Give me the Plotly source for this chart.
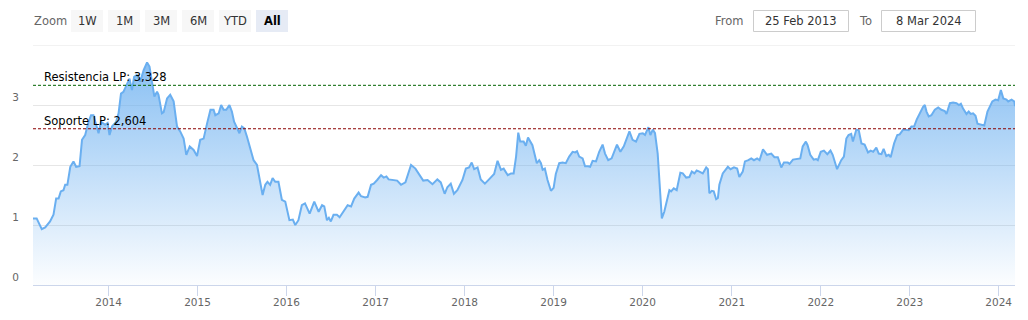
import plotly.graph_objects as go

# ---- data ----
dates = [
    "2013-02-25", "2013-03-12", "2013-04-02", "2013-04-16", "2013-05-06", "2013-05-20", "2013-05-31",
    "2013-06-10", "2013-06-19", "2013-06-30", "2013-07-07", "2013-07-16", "2013-07-28", "2013-08-10",
    "2013-08-21", "2013-09-04", "2013-09-14", "2013-09-27", "2013-10-11", "2013-10-21", "2013-10-31",
    "2013-11-14", "2013-11-21", "2013-12-01", "2013-12-18", "2013-12-28",
    "2014-01-05", "2014-01-15", "2014-02-01", "2014-02-11", "2014-02-21", "2014-03-03", "2014-03-17",
    "2014-03-28", "2014-04-07", "2014-04-16", "2014-04-27", "2014-05-11", "2014-05-25", "2014-06-08",
    "2014-06-18", "2014-06-28", "2014-07-08", "2014-07-19", "2014-07-25", "2014-08-08", "2014-08-15",
    "2014-08-29", "2014-09-11", "2014-09-25", "2014-10-09", "2014-10-22", "2014-11-05", "2014-11-16",
    "2014-11-30", "2014-12-16", "2014-12-30",
    "2015-01-12", "2015-01-26", "2015-02-09", "2015-02-23", "2015-03-08", "2015-03-15", "2015-03-29",
    "2015-04-08", "2015-04-18", "2015-04-29", "2015-05-12", "2015-05-22", "2015-05-31", "2015-06-14",
    "2015-06-22", "2015-07-02", "2015-07-12", "2015-07-23", "2015-08-05", "2015-08-19", "2015-09-02",
    "2015-09-15", "2015-09-25", "2015-10-06", "2015-10-15", "2015-10-26", "2015-11-05", "2015-11-16",
    "2015-11-29", "2015-12-13", "2015-12-27",
    "2016-01-13", "2016-01-27", "2016-02-06", "2016-02-19", "2016-03-04", "2016-03-17", "2016-04-05",
    "2016-04-24", "2016-05-12", "2016-05-26", "2016-06-04", "2016-06-15", "2016-06-23", "2016-07-01",
    "2016-07-12", "2016-07-26", "2016-08-06", "2016-08-22", "2016-09-08", "2016-09-22", "2016-10-05",
    "2016-10-23", "2016-11-02", "2016-11-19", "2016-11-29", "2016-12-13", "2016-12-24",
    "2017-01-07", "2017-01-23", "2017-02-03", "2017-02-14", "2017-02-23", "2017-03-30", "2017-04-15",
    "2017-05-03", "2017-05-26", "2017-06-13", "2017-07-15", "2017-08-02", "2017-08-22", "2017-09-11",
    "2017-09-25", "2017-10-11", "2017-10-22", "2017-11-05", "2017-11-18", "2017-12-02", "2017-12-23",
    "2018-01-06", "2018-01-19", "2018-01-30", "2018-02-09", "2018-02-23", "2018-03-08", "2018-03-25",
    "2018-04-11", "2018-05-02", "2018-05-16", "2018-05-30", "2018-06-10", "2018-06-27", "2018-07-10",
    "2018-07-21", "2018-07-31", "2018-08-09", "2018-08-17", "2018-08-31", "2018-09-09", "2018-09-18",
    "2018-10-06", "2018-10-24", "2018-11-03", "2018-11-10", "2018-11-17", "2018-11-26", "2018-12-07",
    "2018-12-21",
    "2019-01-01", "2019-01-10", "2019-01-24", "2019-02-07", "2019-02-20", "2019-03-06", "2019-03-20",
    "2019-03-31", "2019-04-07", "2019-04-16", "2019-04-30", "2019-05-10", "2019-05-23", "2019-05-31",
    "2019-06-10", "2019-06-24", "2019-07-07", "2019-07-21", "2019-07-31", "2019-08-13", "2019-08-27",
    "2019-09-18", "2019-10-02", "2019-10-16", "2019-11-08", "2019-11-21", "2019-12-05", "2019-12-19",
    "2020-01-02", "2020-01-11", "2020-01-25", "2020-02-02", "2020-02-12", "2020-02-21", "2020-03-03",
    "2020-03-10", "2020-03-20", "2020-03-30", "2020-04-13", "2020-04-20", "2020-04-27", "2020-05-08",
    "2020-05-20", "2020-06-04", "2020-06-14", "2020-06-28", "2020-07-11", "2020-07-21", "2020-08-01",
    "2020-08-10", "2020-08-21", "2020-09-04", "2020-09-18", "2020-09-25", "2020-10-01", "2020-10-11",
    "2020-10-19", "2020-10-29", "2020-11-05", "2020-11-11", "2020-11-25", "2020-12-16", "2020-12-27",
    "2021-01-10", "2021-01-23", "2021-02-01", "2021-02-15", "2021-02-24", "2021-03-10", "2021-03-22",
    "2021-04-02", "2021-04-15", "2021-04-25", "2021-05-09", "2021-05-26", "2021-06-12", "2021-06-25",
    "2021-07-09", "2021-07-23", "2021-08-03", "2021-08-19", "2021-08-26", "2021-09-09", "2021-09-29",
    "2021-10-09", "2021-10-19", "2021-11-01", "2021-11-08", "2021-11-19", "2021-12-03", "2021-12-13",
    "2021-12-20",
    "2022-01-01", "2022-01-14", "2022-01-28", "2022-02-10", "2022-02-19", "2022-03-09", "2022-03-26",
    "2022-04-06", "2022-04-16", "2022-04-25", "2022-05-06", "2022-05-13", "2022-05-27", "2022-06-06",
    "2022-06-17", "2022-06-30", "2022-07-14", "2022-07-25", "2022-08-04", "2022-08-17", "2022-08-27",
    "2022-09-07", "2022-09-16", "2022-09-27", "2022-10-07", "2022-10-15", "2022-10-29", "2022-11-11",
    "2022-11-21", "2022-12-05", "2022-12-18", "2022-12-28",
    "2023-01-08", "2023-01-19", "2023-01-30", "2023-02-11", "2023-02-25", "2023-03-04", "2023-03-11",
    "2023-03-20", "2023-03-31", "2023-04-14", "2023-04-28", "2023-05-11", "2023-05-25", "2023-06-01",
    "2023-06-15", "2023-06-28", "2023-07-12", "2023-07-22", "2023-07-30", "2023-08-08", "2023-08-22",
    "2023-08-31", "2023-09-08", "2023-09-18", "2023-09-28", "2023-10-06", "2023-10-23", "2023-11-03",
    "2023-11-16", "2023-11-26", "2023-12-06", "2023-12-19", "2023-12-30",
    "2024-01-10", "2024-01-20", "2024-02-02", "2024-02-09", "2024-02-23", "2024-03-05", "2024-03-08",
]

values = [
    1.11, 1.11, 0.93, 0.96, 1.06, 1.17, 1.44,
    1.44, 1.56, 1.58, 1.67, 1.67, 1.97, 2.06,
    1.97, 1.98, 2.42, 2.50, 2.72, 2.83, 2.83,
    2.64, 2.53, 2.72, 2.67, 2.70,
    2.50, 2.64, 2.72, 2.86, 3.19, 3.22, 3.33,
    3.44, 3.25, 3.47, 3.50, 3.39, 3.58, 3.71,
    3.64, 3.39, 3.14, 3.22, 3.17, 2.86, 2.88,
    3.11, 3.17, 3.06, 2.64, 2.56, 2.44, 2.17,
    2.31, 2.25, 2.15,
    2.42, 2.44, 2.69, 2.92, 2.92, 2.83, 2.86,
    3.00, 2.92, 2.92, 3.00, 2.89, 2.72, 2.61,
    2.53, 2.64, 2.61, 2.47, 2.28, 2.08, 2.00,
    1.72, 1.50, 1.67, 1.72, 1.67, 1.78, 1.72,
    1.72, 1.42, 1.39,
    1.08, 1.09, 1.00, 1.08, 1.33, 1.36, 1.19,
    1.39, 1.22, 1.33, 1.31, 1.08, 1.12, 1.06,
    1.17, 1.17, 1.13, 1.22, 1.33, 1.31, 1.44,
    1.54, 1.48, 1.46, 1.47, 1.67, 1.69,
    1.75, 1.83, 1.79, 1.81, 1.76, 1.74, 1.67,
    1.71, 2.00, 1.94, 1.74, 1.75, 1.68, 1.76,
    1.71, 1.52, 1.63, 1.69, 1.52, 1.58, 1.75,
    1.94, 1.96, 2.04, 1.93, 1.96, 1.76, 1.69,
    1.76, 1.85, 2.07, 1.92, 1.94, 1.83, 1.86,
    1.86, 2.14, 2.54, 2.39, 2.39, 2.32, 2.46,
    2.33, 2.03, 2.08, 2.03, 1.92, 1.94, 1.75,
    1.57,
    1.62, 1.85, 2.03, 2.04, 2.03, 2.14, 2.22,
    2.21, 2.23, 2.14, 2.11, 1.98, 1.98, 1.97,
    2.07, 2.06, 2.22, 2.34, 2.19, 2.08, 2.11,
    2.34, 2.22, 2.31, 2.56, 2.42, 2.39, 2.52,
    2.53, 2.50, 2.63, 2.50, 2.59, 2.53, 2.19,
    1.69, 1.11, 1.22, 1.50, 1.58, 1.56, 1.61,
    1.58, 1.87, 1.86, 1.79, 1.80, 1.89, 1.86,
    1.91, 1.89, 1.86, 1.96, 1.93, 1.53, 1.57,
    1.56, 1.43, 1.45, 1.67, 1.86, 1.97, 1.93,
    1.96, 1.94, 1.80, 1.89, 2.06, 2.08, 2.11,
    2.08, 2.11, 2.08, 2.26, 2.17, 2.19, 2.13,
    2.13, 1.96, 2.04, 2.04, 2.02, 2.09, 2.10,
    2.11, 2.31, 2.39, 2.33, 2.17, 2.09, 2.10,
    2.08,
    2.22, 2.24, 2.18, 2.24, 2.17, 1.93, 2.08,
    2.14, 2.44, 2.50, 2.52, 2.39, 2.59, 2.58,
    2.36, 2.34, 2.21, 2.24, 2.22, 2.29, 2.19,
    2.18, 2.27, 2.15, 2.17, 2.13, 2.36, 2.50,
    2.51, 2.59, 2.59, 2.58,
    2.64, 2.64, 2.76, 2.87, 2.97, 3.00, 2.89,
    2.81, 2.83, 2.92, 2.96, 2.92, 2.90, 2.85,
    3.03, 3.04, 3.03, 3.00, 3.02, 2.94, 2.85,
    2.89, 2.85, 2.86, 2.82, 2.69, 2.67, 2.66,
    2.89, 2.97, 3.06, 3.09, 3.08,
    3.25, 3.11, 3.09, 3.06, 3.09, 3.06, 2.98,
]

resistance = 3.328
support = 2.604
resistance_label = "Resistencia LP: 3,328"
support_label = "Soporte LP: 2,604"
range_buttons = ["1W", "1M", "3M", "6M", "YTD", "All"]
selected_button = "All"
from_text = "25 Feb 2013"
to_text = "8 Mar 2024"
x_start = "2013-02-25"
x_end = "2024-03-08"
y_ticks = [0, 1, 2, 3]
y_tick_text = ["0", "1", "2", "3"]
y_max = 4

# ---- layout geometry (pixels) ----
W, H = 1028, 320
L, R, T, B = 33, 1015, 45, 285
FONT = "DejaVu Sans"
GRID = "#e6e6e6"


def px(x):
    return (x - L) / (R - L)


def py(y):
    return (B - y) / (B - T)


LINE = "#6aaff0"

fig = go.Figure()
fig.add_trace(go.Scatter(
    x=dates, y=values, mode="lines",
    line=dict(color=LINE, width=2),
    fill="tozeroy",
    fillgradient=dict(
        type="vertical", start=0, stop=y_max,
        colorscale=[[0, "rgba(106,175,240,0.02)"], [1, "rgba(106,175,240,0.85)"]],
    ),
    hoverinfo="x+y", showlegend=False,
))

shapes = []
annotations = []

# top gridline (value 4, unlabeled)
shapes.append(dict(type="line", xref="paper", x0=0, x1=1, yref="y", y0=y_max, y1=y_max,
                   line=dict(color=GRID, width=1), layer="below"))

# support / resistance lines
for val, col, txt in [(resistance, "#006400", resistance_label), (support, "#8b0000", support_label)]:
    shapes.append(dict(type="line", xref="paper", x0=0, x1=1, yref="y", y0=val, y1=val,
                       line=dict(color=col, width=1, dash="3px,2px")))
    annotations.append(dict(xref="paper", x=px(41.5), yref="y", y=val, text=txt,
                            xanchor="left", yanchor="bottom", showarrow=False, yshift=-1,
                            font=dict(family=FONT, size=11.5, color="#000000")))

# range selector look-alike
annotations.append(dict(xref="paper", yref="paper", x=px(32), y=py(21), text="Zoom",
                        xanchor="left", yanchor="middle", showarrow=False,
                        font=dict(family=FONT, size=11.5, color="#666666")))
bx = 71
for lab in range_buttons:
    sel = lab == selected_button
    shapes.append(dict(type="rect", xref="paper", yref="paper", x0=px(bx), x1=px(bx + 32),
                       y0=py(32), y1=py(10), line=dict(width=0),
                       fillcolor="#e6ebf5" if sel else "#f7f7f7", layer="above"))
    annotations.append(dict(xref="paper", yref="paper", x=px(bx + 16), y=py(21),
                            text=f"<b>{lab}</b>" if sel else lab,
                            xanchor="center", yanchor="middle", showarrow=False,
                            font=dict(family=FONT, size=11.5, color="#000000" if sel else "#333333")))
    bx += 37

annotations.append(dict(xref="paper", yref="paper", x=px(746), y=py(21), text="From",
                        xanchor="right", yanchor="middle", showarrow=False,
                        font=dict(family=FONT, size=11.5, color="#666666")))
annotations.append(dict(xref="paper", yref="paper", x=px(874), y=py(21), text="To",
                        xanchor="right", yanchor="middle", showarrow=False,
                        font=dict(family=FONT, size=11.5, color="#666666")))
for x0, x1, txt in [(753.5, 848.5, from_text), (881.5, 975.5, to_text)]:
    shapes.append(dict(type="rect", xref="paper", yref="paper", x0=px(x0), x1=px(x1),
                       y0=py(31.5), y1=py(10.5), line=dict(width=1, color="#cccccc"),
                       fillcolor="#ffffff", layer="above"))
    annotations.append(dict(xref="paper", yref="paper", x=px((x0 + x1) / 2), y=py(21), text=txt,
                            xanchor="center", yanchor="middle", showarrow=False,
                            font=dict(family=FONT, size=11.5, color="#333333")))

fig.update_layout(
    width=W, height=H,
    margin=dict(l=L, r=W - R, t=T, b=H - B, autoexpand=False),
    paper_bgcolor="#ffffff", plot_bgcolor="#ffffff",
    shapes=shapes, annotations=annotations,
    font=dict(family=FONT, size=10.5, color="#666666"),
    xaxis=dict(
        type="date", range=[x_start, x_end],
        tick0="2014-01-01", dtick="M12", tickformat="%Y",
        showgrid=False, showline=True, linecolor="#ccd6eb", linewidth=1,
        ticks="outside", ticklen=10, tickcolor="#ccd6eb", tickwidth=1,
        ticklabelstandoff=-3,
        tickfont=dict(family=FONT, size=10.5, color="#666666"),
        zeroline=False,
    ),
    yaxis=dict(
        range=[0, y_max], tickmode="array", tickvals=y_ticks, ticktext=y_tick_text,
        showgrid=True, gridcolor=GRID, gridwidth=1,
        zeroline=False, showline=False, ticks="",
        ticklabelposition="outside top", ticklabelstandoff=13,
        tickfont=dict(family=FONT, size=10.5, color="#666666"),
    ),
    hovermode="x",
)

fig.write_html("out.html")
